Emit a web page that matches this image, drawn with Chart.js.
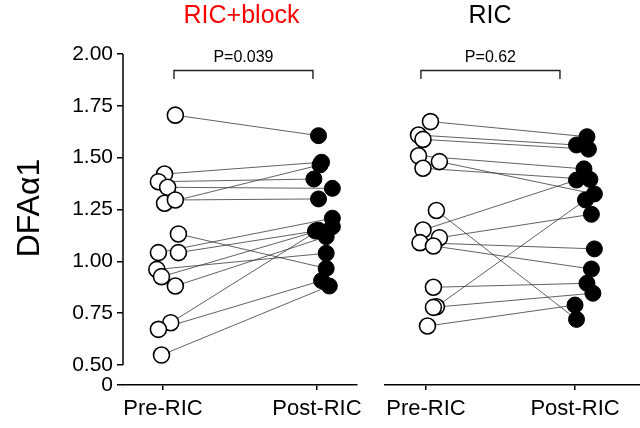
<!DOCTYPE html>
<html>
<head>
<meta charset="utf-8">
<title>DFAα1 pre/post RIC</title>
<script src="https://cdn.jsdelivr.net/npm/chart.js@4.4.1/dist/chart.umd.min.js"></script>
<style>
  html, body { margin: 0; padding: 0; background: #fff; }
  .wrap { position: relative; width: 640px; height: 428px; }
  .wrap canvas { position: absolute; left: 0; top: 0; }
</style>
</head>
<body>
<div class="wrap">
  <canvas id="blockChart" width="640" height="428"></canvas>
  <canvas id="ricChart" width="640" height="428"></canvas>
</div>
<script>
// y axis is broken: "0" sits just below 0.50
const Y_ZERO = 0.4035;
const yTickValues = [0.5, 0.75, 1.0, 1.25, 1.5, 1.75, 2.0];
const groupLabels = ["Pre-RIC", "Post-RIC"];
const panelTitles = ["RIC+block", "RIC"];
const pLabels = ["P=0.039", "P=0.62"];

// RIC+block panel (each index is one subject)
const blockPre = [1.705, 1.421, 1.384, 1.357, 1.280, 1.296, 1.132, 1.042, 1.042, 0.961, 0.926, 0.881, 0.704, 0.672, 0.548];
const blockPost = [1.606, 1.478, 1.397, 1.352, 1.465, 1.301, 0.966, 1.208, 1.146, 1.039, 1.167, 1.119, 1.150, 0.907, 0.881];
const blockPreX = [1.08, 1.01, 0.97, 1.03, 1.01, 1.08, 1.10, 0.97, 1.10, 0.96, 0.99, 1.08, 1.05, 0.97, 0.99];
const blockPostX = [2.01, 2.03, 1.98, 2.10, 2.02, 2.01, 2.06, 2.10, 1.99, 2.06, 2.10, 2.06, 2.01, 2.03, 2.08];

// RIC panel
const ricPre = [1.674, 1.609, 1.588, 1.509, 1.481, 1.449, 1.245, 1.151, 1.114, 1.090, 1.074, 0.875, 0.781, 0.778, 0.688];
const ricPost = [1.601, 1.561, 1.541, 1.446, 1.325, 1.395, 0.720, 1.392, 1.227, 1.060, 0.963, 0.894, 1.296, 0.846, 0.789];
const ricPreX = [1.03, 0.95, 0.98, 0.95, 1.09, 0.98, 1.07, 0.98, 1.09, 0.96, 1.05, 1.05, 1.07, 1.05, 1.01];
const ricPostX = [2.08, 2.01, 2.09, 2.06, 2.13, 2.10, 2.01, 2.01, 2.11, 2.13, 2.11, 2.08, 2.07, 2.12, 2.00];

const FONT = '"Liberation Sans", Arial, Helvetica, sans-serif';

/**
 * Draws panel title, P-value bracket, the broken y axis line and y title
 */
const panelDecor = {
  id: "panelDecor",
  afterDraw(chart, args, opts) {
    const { ctx, chartArea } = chart;
    const x = chart.scales.x;
    const y = chart.scales.y;
    ctx.save();
    ctx.textAlign = "center";
    ctx.textBaseline = "middle";

    // panel title
    ctx.font = `25px ${FONT}`;
    ctx.fillStyle = opts.titleColor;
    ctx.fillText(opts.title, x.getPixelForValue(opts.titleX), 16);

    // significance bracket
    const x1 = x.getPixelForValue(opts.bracketX[0]);
    const x2 = x.getPixelForValue(opts.bracketX[1]);
    const yb = Math.round(y.getPixelForValue(opts.bracketY)) + 0.5;
    const yt = y.getPixelForValue(opts.bracketTipY);
    ctx.strokeStyle = "#222";
    ctx.lineWidth = 1.4;
    ctx.beginPath();
    ctx.moveTo(x1, yt);
    ctx.lineTo(x1, yb);
    ctx.lineTo(x2, yb);
    ctx.lineTo(x2, yt);
    ctx.stroke();
    ctx.font = `16px ${FONT}`;
    ctx.fillStyle = "#000";
    ctx.fillText(opts.pText, (x1 + x2) / 2, y.getPixelForValue(opts.pTextY));

    if (opts.showYAxis) {
      // y axis line only covers 0.50 - 2.00
      ctx.strokeStyle = "#000";
      ctx.lineWidth = 1.5;
      ctx.beginPath();
      ctx.moveTo(chartArea.left, y.getPixelForValue(yTickValues[0]));
      ctx.lineTo(chartArea.left, y.getPixelForValue(yTickValues[yTickValues.length - 1]));
      ctx.stroke();

      ctx.save();
      ctx.translate(30, 208);
      ctx.rotate(-Math.PI / 2);
      ctx.font = `32px ${FONT}`;
      ctx.fillText("DFAα1", 0, 0);
      ctx.restore();
    }
    ctx.restore();
  },
};

function makePanel(canvasId, pre, post, preX, postX, setup) {
  const ctx = document.getElementById(canvasId);

  const pairLines = pre.map((v, i) => ({
    data: [{ x: preX[i], y: v }, { x: postX[i], y: post[i] }],
    showLine: true,
    borderColor: "#3a3a3a",
    borderWidth: 0.8,
    pointRadius: 0,
    order: 2,
  }));

  const preSet = {
    data: pre.map((v, i) => ({ x: preX[i], y: v })),
    pointRadius: 8,
    pointBackgroundColor: "#fff",
    pointBorderColor: "#000",
    pointBorderWidth: 1.6,
    order: 1,
  };

  const postSet = {
    data: post.map((v, i) => ({ x: postX[i], y: v })),
    pointRadius: 8,
    pointBackgroundColor: "#000",
    pointBorderColor: "#000",
    pointBorderWidth: 1,
    order: 0,
  };

  return new Chart(ctx, {
    type: "scatter",
    data: { datasets: [postSet, preSet, ...pairLines] },
    plugins: [panelDecor],
    options: {
      responsive: false,
      animation: false,
      layout: { padding: setup.padding, autoPadding: false },
      plugins: {
        legend: { display: false },
        tooltip: { enabled: false },
        panelDecor: setup.decor,
      },
      scales: {
        x: {
          type: "linear",
          min: setup.xMin,
          max: setup.xMax,
          afterBuildTicks: (scale) => {
            scale.ticks = [{ value: 1 }, { value: 2 }];
          },
          afterFit: (scale) => {
            scale.height = 43;
            // keep the plot area exactly where the padding puts it
            scale.paddingLeft = 0;
            scale.paddingRight = 0;
          },
          grid: {
            drawOnChartArea: false,
            color: "#000",
            lineWidth: 1.5,
            tickLength: 5,
          },
          border: { display: true, color: "#000", width: 1.5 },
          ticks: {
            color: "#000",
            padding: 6,
            maxRotation: 0,
            font: { family: FONT, size: 22 },
            callback: (value) => groupLabels[value - 1] || "",
          },
        },
        y: {
          type: "linear",
          display: setup.showYAxis,
          min: Y_ZERO,
          max: 2.0,
          afterBuildTicks: (scale) => {
            scale.ticks = [Y_ZERO, ...yTickValues].map((v) => ({ value: v }));
          },
          afterFit: (scale) => {
            scale.width = setup.showYAxis ? 123 : 0;
            scale.paddingTop = 0;
            scale.paddingBottom = 0;
          },
          grid: {
            drawOnChartArea: false,
            color: "#000",
            lineWidth: 1.5,
            tickLength: 6,
          },
          border: { display: false },
          ticks: {
            color: "#000",
            padding: 4,
            font: { family: FONT, size: 21 },
            callback: (value) => (value === Y_ZERO ? "0" : value.toFixed(2)),
          },
        },
      },
    },
  });
}

makePanel("blockChart", blockPre, blockPost, blockPreX, blockPostX, {
  padding: { left: 0, right: 283, top: 54, bottom: 0 },
  xMin: 0.74,
  xMax: 2.26,
  showYAxis: true,
  decor: {
    title: panelTitles[0],
    titleColor: "#ff0000",
    titleX: 1.51,
    bracketX: [1.071, 1.974],
    bracketY: 1.923,
    bracketTipY: 1.88,
    pText: pLabels[0],
    pTextY: 1.981,
    showYAxis: true,
  },
});

makePanel("ricChart", ricPre, ricPost, ricPreX, ricPostX, {
  padding: { left: 385, right: 0, top: 54, bottom: 0 },
  xMin: 0.725,
  xMax: 2.436,
  showYAxis: false,
  decor: {
    title: panelTitles[1],
    titleColor: "#000",
    titleX: 1.43,
    bracketX: [0.966, 1.899],
    bracketY: 1.923,
    bracketTipY: 1.88,
    pText: pLabels[1],
    pTextY: 1.981,
    showYAxis: false,
  },
});
</script>
</body>
</html>
